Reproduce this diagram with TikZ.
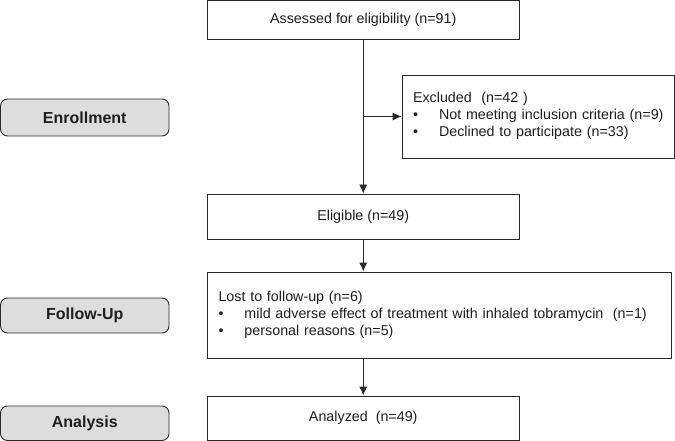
\documentclass[tikz,border=0pt]{standalone}
\usepackage{fontspec}
\setmainfont{Liberation Sans}
\usetikzlibrary{arrows.meta}
\definecolor{linegray}{HTML}{2A2A2A}
\definecolor{phasegray}{HTML}{DDDDDD}
\definecolor{inkgray}{HTML}{1E1E1E}
\tikzset{>={Latex[length=9pt,width=8pt]}}
\tikzset{
  flowbox/.style = {
    draw=linegray, line width=0.9pt, inner sep=0pt,
    text=inkgray, font=\fontsize{14.3}{17}\selectfont
  },
  listbox/.style = {flowbox, align=left, inner xsep=11pt},
  phase/.style = {
    draw=linegray, line width=0.9pt, fill=phasegray,
    rounded corners=7pt, minimum width=168.5pt, inner sep=0pt,
    text=inkgray, font=\fontsize{16}{19}\selectfont\bfseries
  },
  link/.style = {->, draw=linegray, line width=0.9pt}
}
\newcommand{\bul}{\makebox[26pt][l]{\textbullet}}

\begin{document}
\begin{tikzpicture}[x=1pt,y=-1pt]
    \useasboundingbox (0,0) rectangle (675,441);
    % study phases
    \node[phase, minimum height=37pt] (enroll) at (84.75,117.5) {Enrollment};
    \node[phase, minimum height=35pt] (follow) at (84.75,315.5) {Follow-Up};
    \node[phase, minimum height=34.5pt] (analysis) at (84.75,423.25) {Analysis};
    % flow boxes
    \node[flowbox, minimum width=311.5pt, minimum height=38.5pt] (assess) at (363.25,19.75)
      {Assessed for eligibility (n=91)};
    \node[listbox, text width=250pt, minimum height=83pt] (excl) at (538,116.5)
      {\raisebox{6.5pt}{\begin{tabular}{@{}l@{}}
        Excluded\ \ (n=42\ )\\
        \bul Not meeting inclusion criteria (n=9)\\
        \bul Declined to participate (n=33)
      \end{tabular}}};
    \node[flowbox, minimum width=311.5pt, minimum height=45pt] (elig) at (363.25,216.5)
      {Eligible (n=49)};
    \node[listbox, text width=441.5pt, minimum height=86.5pt] (lost) at (439.25,315.25)
      {\raisebox{6pt}{\begin{tabular}{@{}l@{}}
        Lost to follow-up (n=6)\\
        \bul mild adverse effect of treatment with inhaled tobramycin\ \ (n=1)\\
        \bul personal reasons (n=5)
      \end{tabular}}};
    \node[flowbox, minimum width=311.5pt, minimum height=44.5pt] (anlz) at (363.25,418.25)
      {Analyzed\ \ (n=49)};
    % connectors
    \coordinate (split) at (assess.south |- excl.west);
    \draw[link] (assess) -- (elig);
    \draw[link] (split) -- (excl);
    \draw[link] (elig) -- (assess.south |- lost.north);
    \draw[link] (assess.south |- lost.south) -- (anlz);
\end{tikzpicture}
\end{document}
